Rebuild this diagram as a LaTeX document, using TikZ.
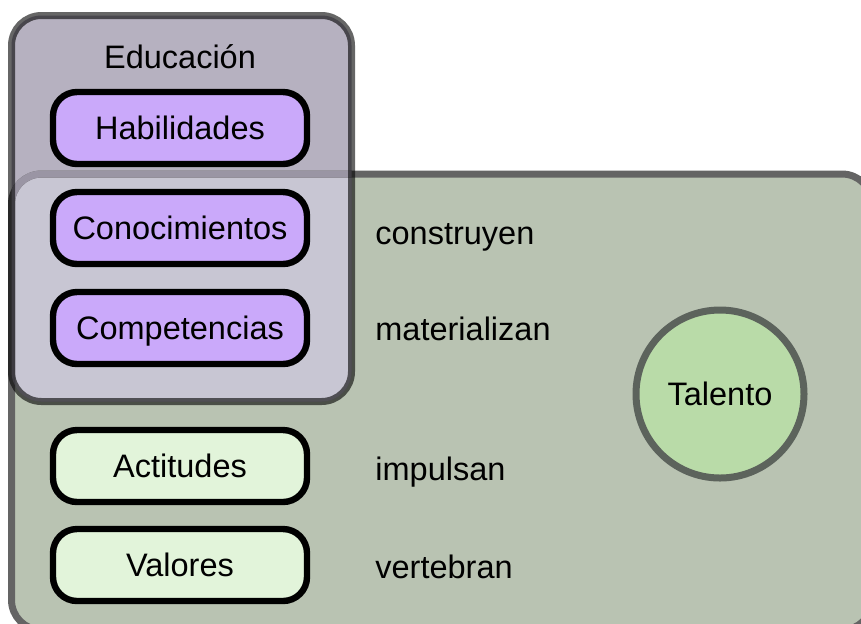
\documentclass[tikz,border=0pt]{standalone}
\usepackage{fontspec}
\setmainfont{Liberation Sans}
\usepackage{xcolor}
\usepackage{tikz}
\usetikzlibrary{positioning}
\definecolor{greenbg}{HTML}{B9C3B2}
\definecolor{edubg}{HTML}{B6B1C0}
\definecolor{overlapbg}{HTML}{C8C6D3}
\definecolor{boxline}{HTML}{646464}
\definecolor{faintline}{HTML}{9A95A4}
\definecolor{mypurple}{HTML}{CAA9FA}
\definecolor{mylightgreen}{HTML}{E2F4DA}
\definecolor{mygreen}{HTML}{B9DBA8}
\definecolor{ringline}{HTML}{5C635C}
\tikzstyle{txt} = [font=\fontsize{16.25}{19}\selectfont]
\tikzstyle{skill} = [txt,draw=black,line width=3.2pt,rounded corners=12pt,minimum width=127pt,minimum height=36pt,text height=11.6pt,text depth=0pt]
\tikzstyle{verb} = [txt,anchor=base west,inner sep=0pt]
\tikzstyle{frame} = [line width=3.5pt,rounded corners=15pt]

\begin{document}
\begin{tikzpicture}[x=0.5pt,y=-0.5pt]
            \path[use as bounding box,clip] (0,0) rectangle (861,623);
            % big boxes
            \fill[color=greenbg,rounded corners=15pt] (11.5,174) rectangle (872,630);
            \fill[color=edubg,rounded corners=15pt] (11.5,15.5) rectangle (351.5,401.5);
            \begin{scope}
                \clip[rounded corners=15pt] (11.5,15.5) rectangle (351.5,401.5);
                \fill[color=overlapbg,rounded corners=15pt] (11.5,174) rectangle (872,630);
            \end{scope}
            \draw[frame,color=boxline] (11.5,174) rectangle (872,630);
            \begin{scope}
                \clip[rounded corners=15pt] (11.5,15.5) rectangle (351.5,401.5);
                \draw[frame,color=faintline] (11.5,174) rectangle (872,630);
            \end{scope}
            \draw[frame,color=black,draw opacity=0.6] (11.5,15.5) rectangle (351.5,401.5);
            \draw (180,68) node[txt,anchor=base] (edu) {Educación};
            % Step
            \draw (180,128) node[skill,fill=mypurple] (hab) {Habilidades};
            \draw (180,228) node[skill,fill=mypurple] (con) {Conocimientos};
            \draw (180,328) node[skill,fill=mypurple] (com) {Competencias};
            \draw (180,466) node[skill,fill=mylightgreen] (act) {Actitudes};
            \draw (180,565) node[skill,fill=mylightgreen] (val) {Valores};
            % verbs
            \draw (375,244) node[verb] (v1) {construyen};
            \draw (375,340) node[verb] (v2) {materializan};
            \draw (375,480) node[verb] (v3) {impulsan};
            \draw (375,578) node[verb] (v4) {vertebran};
            \draw (720,394) node[txt,circle,draw=ringline,line width=3.5pt,fill=mygreen,minimum size=84pt,text height=11.6pt,text depth=0pt] (tal) {Talento};
        \end{tikzpicture}
\end{document}
